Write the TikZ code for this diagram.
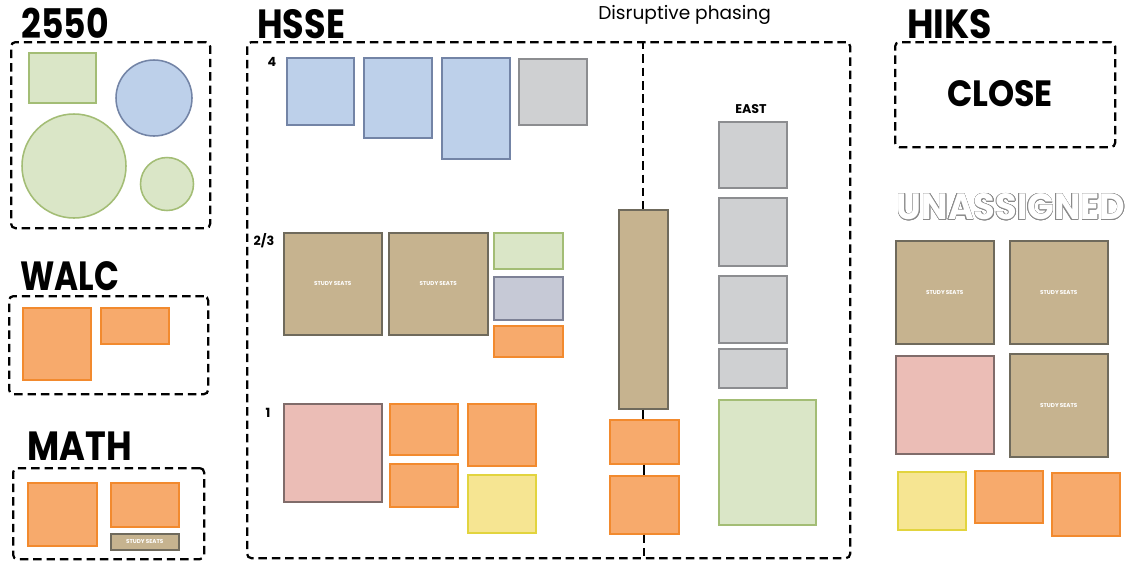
\documentclass[tikz,border=0pt]{standalone}
\usepackage{fontspec}
\setmainfont{Poppins}
\usepackage{contour}
\contourlength{0.4pt}
\usetikzlibrary{positioning}
\definecolor{seatfill}{HTML}{C6B38F}
\definecolor{seatline}{HTML}{6F6A5C}
\definecolor{pinkfill}{HTML}{EBBDB6}
\definecolor{pinkline}{HTML}{806C6A}
\definecolor{orgfill}{HTML}{F7AA6C}
\definecolor{orgline}{HTML}{F28A2E}
\definecolor{yelfill}{HTML}{F6E592}
\definecolor{yelline}{HTML}{E2D43E}
\definecolor{bluefill}{HTML}{BDD0EA}
\definecolor{blueline}{HTML}{7384A6}
\definecolor{grayfill}{HTML}{CFD0D2}
\definecolor{grayline}{HTML}{8C8D90}
\definecolor{slatefill}{HTML}{C6C9D6}
\definecolor{slateline}{HTML}{7D8196}
\definecolor{grnfill}{HTML}{DAE6C7}
\definecolor{grnline}{HTML}{A3BD75}
\definecolor{unline}{HTML}{8A8A8A}
\newcommand\pu{0.025cm}
\newcommand\hdtext[2][0.85]{\scalebox{#1}[1]{#2}}
\begin{document}
\begin{tikzpicture}[
  x=0.025cm, y=-0.025cm,
  wh/.style 2 args={minimum width=#1*\pu, minimum height=#2*\pu},
  zone/.style={
    draw,
    line width=1.6pt,
    dash pattern=on 6pt off 3.5pt,
    rounded corners=3pt,
    anchor=north west,
    inner sep=0pt
  },
  title/.style={anchor=base west, inner sep=0pt, font=\fontsize{29}{29}\selectfont\bfseries},
  floor/.style={inner sep=0pt, font=\fontsize{9}{9}\selectfont\bfseries},
  room/.style={
    draw,
    line width=1.1pt,
    anchor=north west,
    inner sep=0pt,
    align=center,
    text=white,
    font=\fontsize{4}{4}\selectfont\bfseries
  },
  seats/.style={room, fill=seatfill, draw=seatline},
  pink/.style={room, fill=pinkfill, draw=pinkline},
  org/.style={room, fill=orgfill, draw=orgline},
  yel/.style={room, fill=yelfill, draw=yelline},
  blu/.style={room, fill=bluefill, draw=blueline},
  gry/.style={room, fill=grayfill, draw=grayline},
  slate/.style={room, fill=slatefill, draw=slateline},
  grn/.style={room, fill=grnfill, draw=grnline},
  blobblue/.style={circle, draw=blueline, fill=bluefill, line width=1.1pt, inner sep=0pt},
  blobgrn/.style={circle, draw=grnline, fill=grnfill, line width=1.1pt, inner sep=0pt},
  link/.style={line width=1.6pt}
]
\fill[white] (0,0) rectangle (1130,561);
\useasboundingbox (0,0) rectangle (1130,561);
\node[zone, wh={199}{186}] (z2550) at (10,41) {};
\node[title] (t2550) at (21,38) {\hdtext{2550}};
\node[grn, wh={67}{50}] (a1) at (28,52) {};
\node[blobblue, minimum size=76*\pu] (a2) at (154,98) {};
\node[blobgrn, minimum size=104*\pu] (a3) at (74,166) {};
\node[blobgrn, minimum size=53*\pu] (a4) at (167,184) {};
\node[zone, wh={199}{98}] (zwalc) at (8,295) {};
\node[title] (twalc) at (20,290) {\hdtext[0.8]{WALC}};
\node[org, wh={68}{72}] (w1) at (22,307) {};
\node[org, wh={68}{36}] (w2) at (100,307) {};
\node[zone, wh={191}{91}] (zmath) at (12,467) {};
\node[title] (tmath) at (27,460) {\hdtext[0.86]{MATH}};
\node[org, wh={69}{63}] (m1) at (27,482) {};
\node[org, wh={68}{44}] (m2) at (110,482) {};
\node[seats, wh={68}{16}] (m3) at (110,533) {STUDY SEATS};
\node[zone, wh={603}{516}] (zhsse) at (246,41) {};
\node[title] (thsse) at (257,38) {\hdtext[0.86]{HSSE}};
\node[anchor=base west, inner sep=0pt, font=\fontsize{13.2}{13.2}\selectfont] (phase) at (598,19) {Disruptive phasing};
\node[floor] (f4) at (272,62) {4};
\node[floor] (f23) at (264,241) {2/3};
\node[floor] (f1) at (268,413) {1};
\node[blu, wh={67}{67}] (h1) at (286,57) {};
\node[blu, wh={68}{80}] (h2) at (363,57) {};
\node[blu, wh={68}{101}] (h3) at (441,57) {};
\node[gry, wh={68}{66}] (h4) at (518,58) {};
\node[seats, wh={98}{102}] (h5) at (283,232) {STUDY SEATS};
\node[seats, wh={99}{102}] (h6) at (388,232) {STUDY SEATS};
\node[grn, wh={69}{36}] (h7) at (493,232) {};
\node[slate, wh={69}{43}] (h8) at (493,276) {};
\node[org, wh={69}{31}] (h9) at (493,325) {};
\node[pink, wh={98}{98}] (h10) at (283,403) {};
\node[org, wh={68}{51}] (h11) at (389,403) {};
\node[org, wh={68}{43}] (h12) at (389,463) {};
\node[org, wh={68}{62}] (h13) at (467,403) {};
\node[yel, wh={68}{58}] (h14) at (467,474) {};
\node[seats, wh={49}{199}] (tall) at (618,209) {};
\node[org, wh={69}{44}] (ordA) at (609,419) {};
\node[org, wh={69}{58}] (ordB) at (609,475) {};
\node[floor] (east) at (751,109) {EAST};
\node[gry, wh={68}{66}] (e1) at (718,121) {};
\node[gry, wh={68}{68}] (e2) at (718,197) {};
\node[gry, wh={68}{67}] (e3) at (718,275) {};
\node[gry, wh={68}{39}] (e4) at (718,348) {};
\node[grn, wh={97}{125}] (e5) at (718,399) {};
\node[zone, wh={220}{105}] (zhiks) at (894,41) {};
\node[title] (thiks) at (907,38) {\hdtext[0.89]{HIKS}};
\node[inner sep=0pt, font=\fontsize{26}{26}\selectfont\bfseries] (close) at (1000,94) {\hdtext[0.91]{CLOSE}};
\node[inner sep=0pt, text=white, font=\fontsize{26}{26}\selectfont\bfseries] (unas) at (1011,207) {\hdtext[0.96]{\contour{unline}{UNASSIGNED}}};
\node[seats, wh={98}{103}] (u1) at (895,240) {STUDY SEATS};
\node[seats, wh={98}{103}] (u2) at (1009,240) {STUDY SEATS};
\node[pink, wh={98}{98}] (u3) at (895,355) {};
\node[seats, wh={98}{103}] (u4) at (1009,353) {STUDY SEATS};
\node[yel, wh={68}{58}] (u5) at (897,471) {};
\node[org, wh={68}{52}] (u6) at (974,470) {};
\node[org, wh={68}{63}] (u7) at (1051,472) {};
\draw[zone] (tall.north |- zhsse.north) -- (tall.north);
\draw[link] (tall.south) -- (tall.south |- ordA.north);
\draw[link] (ordA.south) -- (ordB.north);
\draw[zone] (ordB.south) -- (ordB.south |- zhsse.south);
\end{tikzpicture}
\end{document}
